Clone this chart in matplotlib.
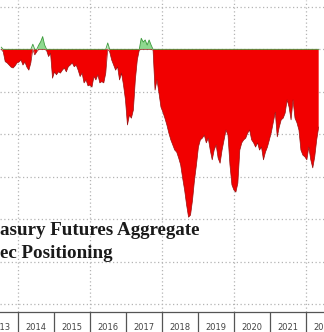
import numpy as np
import pandas as pd
import matplotlib
matplotlib.use("Agg")
import matplotlib.pyplot as plt
import matplotlib.dates as mdates

# Aggregate non-spec positioning (thousand contracts), 20-day samples
start_date = "2013-07-15"
step = "20D"
positioning = [
    5, -6, -29, -32, -37, -42, -44, -39, -32, -30,
    -25, -37, -30, -42, -49, -32, 12, -13, -6, 10,
    18, 30, 10, -3, -17, -9, -68, -53, -60, -53,
    -56, -49, -44, -53, -41, -37, -32, -41, -37, -49,
    -64, -56, -79, -72, -86, -84, -89, -64, -72, -60,
    -79, -76, -79, -56, 15, -6, -25, -37, -49, -41,
    -72, -56, -84, -119, -178, -155, -162, -143, -72, -25,
    -2, 26, 17, 22, 10, 22, 10, -2, -96, -72,
    -103, -136, -148, -162, -178, -197, -213, -225, -237, -242,
    -256, -272, -303, -331, -366, -395, -390, -355, -308, -272,
    -230, -213, -209, -202, -220, -209, -237, -260, -237, -225,
    -256, -268, -237, -213, -190, -202, -272, -319, -331, -336,
    -315, -237, -220, -213, -209, -197, -190, -213, -220, -230,
    -220, -237, -230, -260, -242, -230, -213, -195, -171, -148,
    -206, -183, -166, -162, -150, -119, -136, -166, -119, -162,
    -173, -190, -237, -249, -253, -260, -230, -260, -279, -253,
    -213, -183,
]
year_labels = ["2013", "2014", "2015", "2016", "2017", "2018", "2019",
               "2020", "2021", "2022"]
# visible part of the (cropped) title
title_line1 = "asury Futures Aggregate"
title_line2 = "ec Positioning"

dates = pd.date_range(start=start_date, periods=len(positioning), freq=step)
vals = np.array(positioning, dtype=float)

W, H = 324, 332
fig = plt.figure(figsize=(W / 100, H / 100), dpi=100)
ax = fig.add_axes([0, 20 / H, 1, 312 / H])

ax.set_xlim(pd.Timestamp("2013-07-15"), pd.Timestamp("2022-05-22"))
ax.set_ylim(-618, 116)

# grid
grid_kw = dict(color="#b4b4b4", lw=0.9, ls=(0, (1, 2)), zorder=0)
for yv in range(-600, 101, 100):
    ax.axhline(yv, **grid_kw)
for yr in range(2014, 2023, 2):
    ax.axvline(pd.Timestamp(f"{yr}-01-01"), **grid_kw)

# area
ax.fill_between(dates, vals, 0, where=vals <= 0, interpolate=True,
                color="#f20000", lw=0, zorder=2)
ax.fill_between(dates, vals, 0, where=vals >= 0, interpolate=True,
                color="#8fd98f", lw=0, zorder=2)
ax.plot(dates, np.minimum(vals, 0), color="#9a1010", lw=0.5, zorder=3)
ax.plot(dates, np.maximum(vals, 0), color="#3c9a3c", lw=0.6, zorder=3)

# axes styling
for s in ["top", "left", "right"]:
    ax.spines[s].set_visible(False)
ax.spines["bottom"].set_color("#555555")
ax.spines["bottom"].set_linewidth(0.9)
ax.set_yticks([])
ax.xaxis.set_major_locator(mdates.YearLocator(1))
ax.xaxis.set_major_formatter(plt.NullFormatter())
mid_ticks = [pd.Timestamp(f"{y}-07-02") for y in year_labels]
ax.set_xticks(mid_ticks, minor=True)
ax.set_xticklabels(year_labels, minor=True)
ax.tick_params(axis="x", which="major", length=15, width=0.9,
               color="#555555", direction="out")
ax.tick_params(axis="x", which="minor", length=0, pad=8,
               labelsize=6, labelcolor="#444444")
for lab in ax.get_xticklabels(minor=True):
    lab.set_family(["Liberation Sans Narrow", "DejaVu Sans"])

# title text
fig.text(0, 1 - 235 / H, title_line1, ha="left", va="baseline",
         fontsize=13.7, fontweight="bold", family="Liberation Serif",
         color="#1a1a1a")
fig.text(0, 1 - 258 / H, title_line2, ha="left", va="baseline",
         fontsize=13.7, fontweight="bold", family="Liberation Serif",
         color="#1a1a1a")

fig.savefig("out.png", dpi=100)
